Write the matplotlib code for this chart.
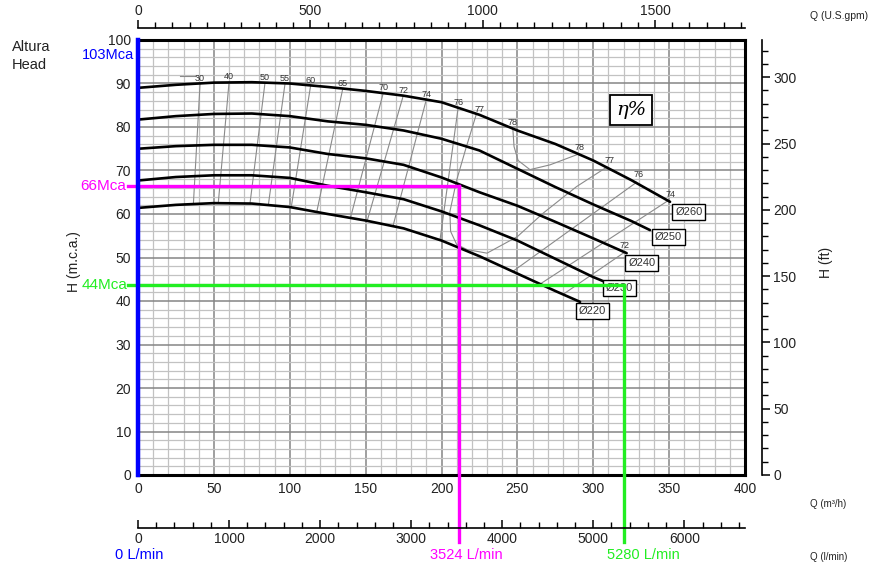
import matplotlib
matplotlib.use("Agg")
import matplotlib.pyplot as plt
from matplotlib.ticker import MultipleLocator, FixedLocator

NARROW = ['Liberation Sans Narrow', 'Liberation Sans', 'DejaVu Sans']
REG = ['Liberation Sans', 'DejaVu Sans']
plt.rcParams['font.family'] = NARROW

# ---------------- data ----------------
q260 = [0, 25, 50, 75, 100, 125, 150, 175, 200, 225, 250, 275, 300, 325, 350.6]
h260 = [89.0, 89.7, 90.2, 90.3, 90.0, 89.2, 88.3, 87.2, 85.7, 82.8, 79.2, 76.1, 72.3, 67.8, 62.8]
q250 = [0, 25, 50, 75, 100, 125, 150, 175, 200, 225, 250, 275, 300, 325, 337.4]
h250 = [81.7, 82.5, 83.0, 83.1, 82.5, 81.3, 80.5, 79.2, 77.3, 74.6, 70.4, 66.2, 62.2, 58.4, 56.3]
q240 = [0, 25, 50, 75, 100, 125, 150, 175, 200, 225, 250, 275, 300, 322]
h240 = [75.0, 75.6, 75.9, 75.9, 75.3, 73.8, 72.8, 71.3, 68.4, 65.0, 61.9, 58.2, 54.4, 51.0]
q230 = [0, 25, 50, 75, 100, 125, 150, 175, 200, 225, 250, 275, 300, 307.7]
h230 = [67.7, 68.5, 68.9, 68.9, 68.3, 66.5, 65.0, 63.4, 60.6, 57.4, 53.9, 49.7, 45.5, 44.4]
q220 = [0, 25, 50, 75, 100, 125, 150, 175, 200, 225, 250, 275, 291.3]
h220 = [61.4, 62.1, 62.5, 62.4, 61.6, 60.0, 58.5, 56.7, 53.9, 50.3, 46.3, 42.3, 39.8]
diam_names = ['Ø260', 'Ø250', 'Ø240', 'Ø230', 'Ø220']
diam_box_q = [352, 338.7, 321, 306.4, 288.6]
diam_box_h = [60.5, 54.7, 48.7, 43.0, 37.7]

# left-side iso-efficiency lines (top on Ø260, bottom on Ø220)
eff_left = ['30', '40', '50', '55', '60', '65', '70', '72', '74', '76']
eff_top_q = [40.9, 60.0, 83.7, 96.9, 113.8, 135.0, 161.6, 174.8, 190.0, 211.0]
eff_top_h = [90.0, 90.3, 90.2, 90.0, 89.6, 88.9, 87.8, 87.2, 86.3, 84.5]
eff_bot_q = [36.5, 52.9, 73.8, 85.9, 101.0, 117.8, 140.0, 151.0, 168.0, 199.0]
eff_bot_h = [62.3, 62.5, 62.4, 62.1, 61.6, 60.5, 59.1, 58.4, 57.2, 54.0]
# loops / right-side iso lines
iso78_q = [247, 247.8, 250.5, 258.3, 271.5, 289]
iso78_h = [79.6, 75.5, 72.3, 70.2, 71.3, 73.6]
iso77_q = [223, 216, 210, 205.5, 206, 210, 217, 230, 250, 267, 289, 309]
iso77_h = [83.0, 75.0, 67.8, 60.5, 56.0, 53.0, 51.8, 51.0, 54.8, 60.2, 66.3, 70.8]
iso76r_q = [328.6, 247]
iso76r_h = [67.3, 46.8]
iso74r_q = [349, 265]
iso74r_h = [63.0, 43.9]
iso72r_q = [321, 280]
iso72r_h = [51.3, 41.5]
eff_right = ['78', '78', '77', '77', '76', '74', '72']
eff_right_q = [247, 291, 225, 311, 330, 350.6, 320.5]
eff_right_h = [81.0, 75.2, 84.0, 72.2, 69.0, 64.4, 52.8]

# operating points
q_blue, h_blue = 0, 103
q_mag, h_mag = 211.3, 66.5
q_grn, h_grn = 320, 43.7
lmin_blue, lmin_mag, lmin_grn = 0, 3524, 5280

# ---------------- figure ----------------
W, H = 876, 569
fig = plt.figure(figsize=(W / 100, H / 100), dpi=100)
def fx(px): return px / W
def fy(py): return 1 - py / H

TICK_FS = 10

ax = fig.add_axes([fx(138), fy(475), (745 - 138) / W, (475 - 40) / H])
ax.set_xlim(0, 400)
ax.set_ylim(0, 100)
ax.xaxis.set_major_locator(MultipleLocator(50))
ax.xaxis.set_minor_locator(MultipleLocator(10))
ax.yaxis.set_major_locator(MultipleLocator(10))
ax.yaxis.set_minor_locator(MultipleLocator(2))
ax.grid(which='minor', color='#c2c2c2', lw=0.9, zorder=0)
ax.grid(which='major', color='#858585', lw=1.1, zorder=0)
ax.set_axisbelow(True)
ax.tick_params(axis='both', which='both', length=0, labelsize=TICK_FS, labelcolor='#222222')
ax.tick_params(axis='x', pad=5)
ax.tick_params(axis='y', pad=5)
for s in ax.spines.values():
    s.set_linewidth(2.2)
    s.set_color('black')

# pump curves
for q, h in [(q260, h260), (q250, h250), (q240, h240), (q230, h230), (q220, h220)]:
    ax.plot(q, h, color='black', lw=1.9, solid_capstyle='round', zorder=4)

# iso-efficiency lines
gray = '#8a8a8a'
for lab, qt, ht, qb, hb in zip(eff_left, eff_top_q, eff_top_h, eff_bot_q, eff_bot_h):
    ax.plot([qt, qb], [ht, hb], color=gray, lw=0.8, zorder=3)
    ax.text(qt, ht + 1.2, lab, fontsize=6.5, color='#333333', ha='center', va='center', zorder=5)
ax.plot([27.7, 38.0], [91.7, 91.7], color=gray, lw=0.8, zorder=3)
for q, h in [(iso78_q, iso78_h), (iso77_q, iso77_h), (iso76r_q, iso76r_h),
             (iso74r_q, iso74r_h), (iso72r_q, iso72r_h)]:
    ax.plot(q, h, color=gray, lw=0.8, zorder=3)
for lab, q, h in zip(eff_right, eff_right_q, eff_right_h):
    ax.text(q, h, lab, fontsize=6.5, color='#333333', ha='center', va='center', zorder=5)

# diameter boxes
for name, q, h in zip(diam_names, diam_box_q, diam_box_h):
    ax.text(q + 2, h, name, fontsize=8, color='#333333', ha='left', va='center', zorder=6,
            bbox=dict(boxstyle='square,pad=0.25', fc='white', ec='black', lw=1.0))

# eta box
ax.text(324.9, 83.9, 'η%', fontsize=14, family='DejaVu Serif', style='italic',
        ha='center', va='center', zorder=6,
        bbox=dict(boxstyle='square,pad=0.3', fc='white', ec='black', lw=1.3))

# coloured guide lines
ax.plot([q_blue, q_blue], [0, 100], color='#0000ff', lw=3.2, clip_on=False, zorder=8)
ax.plot([-6.5, q_mag], [h_mag, h_mag], color='#ff00ff', lw=2.4, clip_on=False, zorder=7)
ax.plot([q_mag, q_mag], [h_mag, -15.4], color='#ff00ff', lw=2.4, clip_on=False, zorder=7)
ax.plot([-6.5, q_grn], [h_grn, h_grn], color='#22ee22', lw=2.4, clip_on=False, zorder=7)
ax.plot([q_grn, q_grn], [h_grn, -15.4], color='#22ee22', lw=2.4, clip_on=False, zorder=7)

# right axis: H (ft)
ax2 = ax.twinx()
ax2.set_ylim(0, 100 * 3.28084)
for k in ['top', 'bottom', 'left']:
    ax2.spines[k].set_visible(False)
ax2.spines['right'].set_position(('outward', 12.2))
ax2.spines['right'].set_linewidth(1.2)
ax2.yaxis.set_major_locator(MultipleLocator(50))
ax2.yaxis.set_minor_locator(MultipleLocator(10))
ax2.tick_params(axis='y', which='major', length=6, width=1.1, labelsize=TICK_FS, labelcolor='#222222', pad=2)
ax2.tick_params(axis='y', which='minor', length=4, width=1.0)

# top axis: U.S. gpm
ax3 = ax.twiny()
ax3.set_xlim(0, 400 * 4.40287)
for k in ['bottom', 'left', 'right']:
    ax3.spines[k].set_visible(False)
ax3.spines['top'].set_position(('outward', 8.6))
ax3.spines['top'].set_linewidth(1.2)
ax3.xaxis.set_major_locator(FixedLocator([0, 500, 1000, 1500]))
ax3.xaxis.set_minor_locator(MultipleLocator(50))
ax3.tick_params(axis='x', which='major', length=6, width=1.1, labelsize=TICK_FS, labelcolor='#222222', pad=1)
ax3.tick_params(axis='x', which='minor', length=4, width=1.0)

# bottom axis: l/min
ax4 = ax.twiny()
ax4.set_xlim(0, 400 * 1000 / 60)
ax4.xaxis.set_ticks_position('bottom')
ax4.xaxis.set_label_position('bottom')
for k in ['top', 'left', 'right']:
    ax4.spines[k].set_visible(False)
ax4.spines['bottom'].set_position(('outward', 38.2))
ax4.spines['bottom'].set_linewidth(1.2)
ax4.xaxis.set_major_locator(MultipleLocator(1000))
ax4.xaxis.set_minor_locator(MultipleLocator(200))
ax4.tick_params(axis='x', which='major', direction='in', length=6, width=1.1, labelsize=TICK_FS,
                labelcolor='#222222', pad=3)
ax4.tick_params(axis='x', which='minor', direction='in', length=4, width=1.0)

# texts
fig.text(fx(12), fy(40), 'Altura\nHead', fontsize=10.5, ha='left', va='top', linespacing=1.35, color='#222222')
fig.text(fx(134), fy(55), '103Mca', fontsize=10.5, family=REG, color='#0000ff', ha='right', va='center')
fig.text(fx(126), fy(186), '66Mca', fontsize=11, family=REG, color='#ff00ff', ha='right', va='center')
fig.text(fx(127), fy(285), '44Mca', fontsize=11, family=REG, color='#22ee22', ha='right', va='center')
fig.text(fx(74), fy(262), 'H (m.c.a.)', fontsize=10, rotation=90, ha='center', va='center', color='#222222')
fig.text(fx(826), fy(262), 'H (ft)', fontsize=10, rotation=90, ha='center', va='center', color='#222222')
fig.text(fx(810), fy(16), 'Q (U.S.gpm)', fontsize=7.5, ha='left', va='center', color='#222222')
fig.text(fx(810), fy(504), 'Q (m³/h)', fontsize=7, ha='left', va='center', color='#222222')
fig.text(fx(810), fy(557), 'Q (l/min)', fontsize=7, ha='left', va='center', color='#222222')
fig.text(fx(139), fy(555), f'{lmin_blue} L/min', fontsize=10.5, family=REG, color='#0000ff', ha='center', va='center')
fig.text(fx(466), fy(555), f'{lmin_mag} L/min', fontsize=10.5, family=REG, color='#ff00ff', ha='center', va='center')
fig.text(fx(643), fy(555), f'{lmin_grn} L/min', fontsize=10.5, family=REG, color='#22ee22', ha='center', va='center')

fig.savefig('out.png', dpi=100, facecolor='white')
